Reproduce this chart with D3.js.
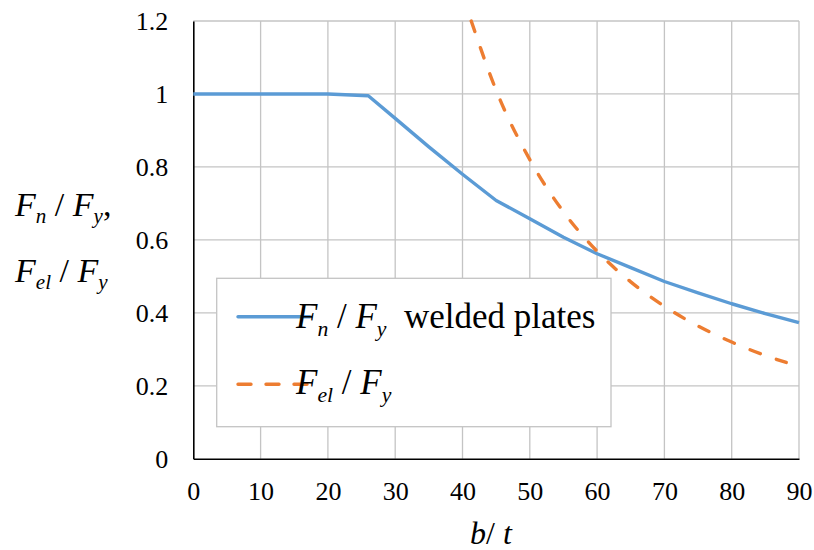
<!DOCTYPE html>
<html><head><meta charset="utf-8">
<script src="https://cdn.jsdelivr.net/npm/d3@7"></script>
<style>
html,body{margin:0;padding:0;background:#fff;}
svg text{font-family:"Liberation Serif","Times New Roman",serif !important;fill:#000;}
</style></head>
<body>
<svg id="chart" width="814" height="550"></svg>
<script>
// ---- data ----
const xTicks = [0,10,20,30,40,50,60,70,80,90];
const yTicks = [0,0.2,0.4,0.6,0.8,1,1.2];
const yTickLabels = ["0","0.2","0.4","0.6","0.8","1","1.2"];
const fnX = [0,5,10,15,20,26,30,35,40,45,50,55,60,65,70,75,80,85,90];
const fnY = [1,1,1,1,1,0.995,0.933,0.855,0.78,0.708,0.658,0.607,0.562,0.524,0.486,0.455,0.425,0.398,0.373];
const felX = [41.3,45,50,55,60,65,70,75,80,85,88.1];
const felY = [1.2,1.01,0.82,0.677,0.569,0.485,0.418,0.364,0.32,0.283,0.264];

const svg = d3.select("#chart");
const x = d3.scaleLinear().domain([0,90]).range([193.3,799]);
const y = d3.scaleLinear().domain([0,1.2]).range([458.8,21]);
const gridColor = "#c4c4c4";
const FONT = "Liberation Serif, Times New Roman, serif";
const LW = 3.4;

// grid
svg.append("g").selectAll("line").data(xTicks.filter(d=>d>0)).join("line")
  .attr("x1",d=>x(d)).attr("x2",d=>x(d)).attr("y1",y(0)).attr("y2",y(1.2))
  .attr("stroke",gridColor).attr("stroke-width",1.3);
svg.append("g").selectAll("line").data(yTicks.filter(d=>d>0)).join("line")
  .attr("x1",x(0)).attr("x2",x(90)).attr("y1",d=>y(d)).attr("y2",d=>y(d))
  .attr("stroke",gridColor).attr("stroke-width",1.3);

// axes
const xAxis = d3.axisBottom(x).tickValues(xTicks).tickSize(0).tickPadding(0);
const gx = svg.append("g").attr("transform",`translate(0,${y(0)})`).call(xAxis)
  .attr("font-family",FONT).attr("font-size",26);
gx.select(".domain").attr("stroke","#000").attr("stroke-width",1.6);
gx.selectAll("text").attr("dy",null).attr("y",41);

const yAxis = d3.axisLeft(y).tickValues(yTicks).tickFormat((d,i)=>yTickLabels[i]).tickSize(0).tickPadding(0);
const gy = svg.append("g").attr("transform",`translate(${x(0)},0)`).call(yAxis)
  .attr("font-family",FONT).attr("font-size",26);
gy.select(".domain").attr("stroke","#000").attr("stroke-width",1.6);
gy.selectAll("text").attr("x",-25).attr("dy","0.34em");

// series
const line = d3.line().x(d=>x(d[0])).y(d=>y(d[1]));
svg.append("path").datum(fnX.map((v,i)=>[v,fnY[i]]))
  .attr("d",line).attr("fill","none").attr("stroke","#5B9BD5").attr("stroke-width",LW)
  .attr("stroke-linejoin","round");
svg.append("path").datum(felX.map((v,i)=>[v,felY[i]]))
  .attr("d",line.curve(d3.curveMonotoneX)).attr("fill","none").attr("stroke","#ED7D31").attr("stroke-width",LW)
  .attr("stroke-dasharray","11,17").attr("stroke-linecap","round");

// legend
const lg = svg.append("g").attr("font-family",FONT);
lg.append("rect").attr("x",216.7).attr("y",278.3).attr("width",394.3).attr("height",148.4)
  .attr("fill","#fff").attr("stroke",gridColor).attr("stroke-width",1.3);
lg.append("line").attr("x1",238).attr("x2",310).attr("y1",316.7).attr("y2",316.7)
  .attr("stroke","#5B9BD5").attr("stroke-width",LW).attr("stroke-linecap","round");
lg.append("line").attr("x1",238).attr("x2",310).attr("y1",384.3).attr("y2",384.3)
  .attr("stroke","#ED7D31").attr("stroke-width",LW).attr("stroke-dasharray","13,15").attr("stroke-linecap","round");

function fracText(g, xPos, yPos, size, sub1, sub2, tail){
  const t = g.append("text").attr("x",xPos).attr("y",yPos).attr("font-size",size).attr("font-family",FONT);
  t.append("tspan").attr("font-style","italic").text("F");
  t.append("tspan").attr("font-style","italic").attr("font-size",size*0.62).attr("dy",size*0.22).text(sub1);
  t.append("tspan").attr("dy",-size*0.22).text(" / ");
  t.append("tspan").attr("font-style","italic").text("F");
  t.append("tspan").attr("font-style","italic").attr("font-size",size*0.62).attr("dy",size*0.22).text(sub2);
  if (tail) t.append("tspan").attr("dy",-size*0.22).text(tail);
  return t;
}
fracText(lg, 296, 328, 35, "n", "y", "\u00a0 welded plates");
fracText(lg, 296, 394, 35, "el", "y", null);

// y title
fracText(svg, 15, 216, 34, "n", "y", ",");
fracText(svg, 15, 282, 34, "el", "y", null);

// x title
const xt = svg.append("text").attr("x",470).attr("y",544).attr("font-size",32).attr("font-style","italic").attr("font-family",FONT);
xt.append("tspan").text("b");
xt.append("tspan").attr("font-style","normal").text("/ ");
xt.append("tspan").text("t");
</script>
</body></html>
